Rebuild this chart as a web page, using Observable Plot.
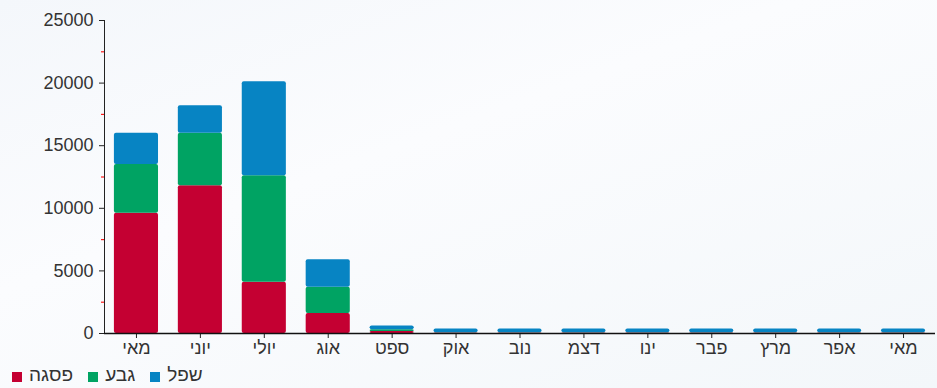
<!DOCTYPE html>
<html><head><meta charset="utf-8">
<script src="https://cdn.jsdelivr.net/npm/d3@7"></script>
<script src="https://cdn.jsdelivr.net/npm/@observablehq/plot@0.6"></script>
<style>
html,body{margin:0;padding:0;background:#f7f9fc;}
body{width:937px;height:388px;overflow:hidden;font-family:"Liberation Sans",Arial,sans-serif;background:linear-gradient(160deg,#f4f7fb 0%,#fbfcfe 40%,#f3f7fa 100%);}
#chart svg{display:block;}
#legend{display:flex;direction:ltr;align-items:center;height:26px;padding-left:12px;font-size:19px;color:#333;}
#legend .item{display:flex;align-items:center;margin-right:15px;}
#legend .sw{width:10px;height:10px;margin-right:7px;display:inline-block;margin-top:4px;}
</style></head>
<body>
<div id="chart"></div>
<div id="legend"></div>
<script>
const months = ["מאי","יוני","יולי","אוג","ספט","אוק","נוב","דצמ","ינו","פבר","מרץ","אפר","מאי"];
const seriesNames = ["פסגה","גבע","שפל"];
const seriesColors = ["#c40032","#00a363","#0784c3"];
const peak     = [9600, 11800, 4100, 1600, 150, 40, 40, 40, 40, 40, 40, 40, 40];
const shoulder = [3900, 4200, 8500, 2100, 150, 20, 20, 20, 20, 20, 20, 20, 20];
const low      = [2500, 2200, 7500, 2200, 300, 290, 290, 290, 290, 290, 290, 290, 290];
const majorTicks = [0, 5000, 10000, 15000, 20000, 25000];
const minorTicks = [2500, 7500, 12500, 17500, 22500];

const seriesValues = [peak, shoulder, low];
const data = [];
months.forEach((m, i) => {
  seriesValues.forEach((vals, s) => {
    data.push({key: i, month: m, series: seriesNames[s], value: vals[i]});
  });
});

const chart = Plot.plot({
  width: 937,
  height: 362,
  marginTop: 20,
  marginBottom: 29,
  marginLeft: 104,
  marginRight: 2,
  style: {background: "transparent", fontFamily: "Liberation Sans, Arial, sans-serif", fontSize: "18px", color: "#333"},
  x: {domain: d3.range(months.length), paddingInner: 0.31, paddingOuter: 0.155, round: false, axis: null},
  y: {domain: [0, 25000], axis: null},
  color: {domain: seriesNames, range: seriesColors},
  marks: [
    Plot.barY(data, Plot.stackY({x: "key", y: "value", fill: "series", order: null, rx: 2})),
    Plot.axisX({tickSize: 5, tickPadding: 3, tickFormat: i => months[i], fontSize: 18, stroke: "#222", fill: "#333", label: null}),
    Plot.axisY({ticks: minorTicks, tickSize: 3, stroke: "#ff1a1a", strokeWidth: 1.2, tickFormat: () => "", label: null}),
    Plot.axisY({ticks: majorTicks, tickSize: 5, tickPadding: 6, tickFormat: d => String(d), fontSize: 18, stroke: "#222", fill: "#333", label: null}),
    Plot.frame({anchor: "left", stroke: "#222"}),
    Plot.ruleY([0], {stroke: "#111", strokeWidth: 1.5})
  ]
});
document.getElementById("chart").appendChild(chart);

const legend = document.getElementById("legend");
seriesNames.forEach((n, i) => {
  const it = document.createElement("span");
  it.className = "item";
  const sw = document.createElement("span");
  sw.className = "sw";
  sw.style.background = seriesColors[i];
  const t = document.createElement("span");
  t.textContent = n;
  it.appendChild(sw); it.appendChild(t);
  legend.appendChild(it);
});
</script>
</body></html>
